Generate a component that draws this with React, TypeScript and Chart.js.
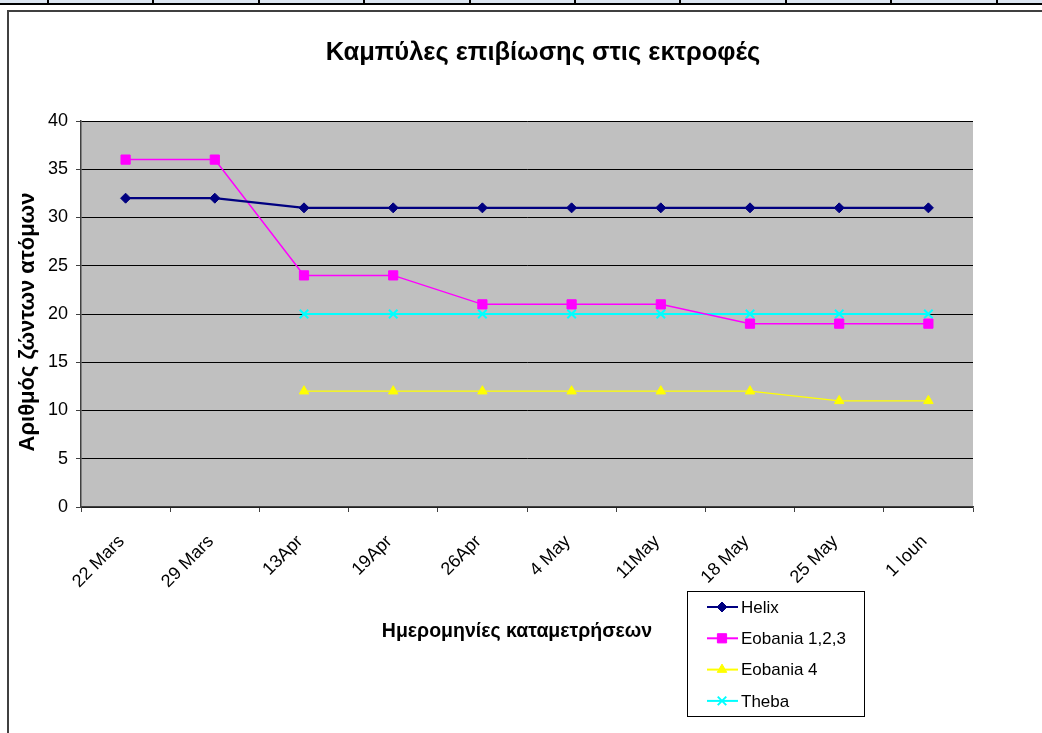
import React, { useEffect, useRef } from 'react';
import { Chart, registerables } from 'chart.js';
import { drawPoint } from 'chart.js/helpers';

Chart.register(...registerables);

const FONT = '"Liberation Sans", Arial, sans-serif';

const categories = ['22 Mars', '29 Mars', '13Apr', '19Apr', '26Apr', '4 May', '11May', '18 May', '25 May', '1 Ioun'];
const helix = [32, 32, 31, 31, 31, 31, 31, 31, 31, 31];
const eobania123 = [36, 36, 24, 24, 21, 21, 21, 19, 19, 19];
const eobania4 = [null, null, 12, 12, 12, 12, 12, 12, 11, 11];
const theba = [null, null, 20, 20, 20, 20, 20, 20, 20, 20];
const seriesLabels = ['Helix', 'Eobania 1,2,3', 'Eobania 4', 'Theba'];
const seriesColors = ['#000080', '#FF00FF', '#FFFF00', '#00FFFF'];
const chartTitle = 'Καμπύλες επιβίωσης στις εκτροφές';
const yTitle = 'Αριθμός ζώντων ατόμων';
const xTitle = 'Ημερομηνίες καταμετρήσεων';

const decorPlugin = {
  id: 'decor',
  beforeDraw(chart: any) {
    const { ctx, chartArea } = chart;
    const W = chart.width;
    const H = chart.height;
    ctx.save();
    ctx.fillStyle = '#ffffff';
    ctx.fillRect(0, 0, W, H);
    ctx.fillStyle = '#DBE5F1';
    ctx.fillRect(0, 0, W, 3);
    ctx.fillStyle = '#000000';
    ctx.fillRect(0, 3, W, 2);
    for (let i = 0; i < 10; i++) {
      const x = Math.round(48 + 105.4 * i);
      ctx.fillRect(x - 1, 0, 2, 4);
    }
    ctx.strokeStyle = '#404040';
    ctx.lineWidth = 2;
    ctx.strokeRect(8, 11, W + 40, H + 40);
    ctx.fillStyle = '#C0C0C0';
    ctx.fillRect(chartArea.left, chartArea.top, chartArea.right - chartArea.left, chartArea.bottom - chartArea.top);
    ctx.restore();
  },
  afterDraw(chart: any) {
    const { ctx } = chart;
    ctx.save();
    ctx.fillStyle = '#000000';
    ctx.textAlign = 'center';
    ctx.textBaseline = 'middle';
    ctx.font = `bold 25.5px ${FONT}`;
    ctx.fillText(chartTitle, 543, 53);
    ctx.font = `bold 19.5px ${FONT}`;
    ctx.fillText(xTitle, 517, 632);
    ctx.save();
    ctx.translate(28, 322);
    ctx.rotate(-Math.PI / 2);
    ctx.font = `bold 22px ${FONT}`;
    ctx.fillText(yTitle, 0, 0);
    ctx.restore();

    const bx = 687, by = 591, bw = 177, bh = 125;
    ctx.fillStyle = '#ffffff';
    ctx.fillRect(bx, by, bw, bh);
    ctx.strokeStyle = '#000000';
    ctx.lineWidth = 1;
    ctx.strokeRect(bx + 0.5, by + 0.5, bw, bh);
    ctx.font = `17px ${FONT}`;
    ctx.textAlign = 'left';
    ctx.textBaseline = 'middle';
    chart.data.datasets.forEach((ds: any, i: number) => {
      const y = 607 + i * 31.3;
      ctx.strokeStyle = ds.borderColor;
      ctx.lineWidth = 2;
      ctx.beginPath();
      ctx.moveTo(707, y);
      ctx.lineTo(738, y);
      ctx.stroke();
      ctx.fillStyle = ds.pointBackgroundColor;
      ctx.strokeStyle = ds.pointBorderColor;
      ctx.lineWidth = ds.pointBorderWidth;
      drawPoint(ctx, { pointStyle: ds.pointStyle, rotation: 0, borderWidth: ds.pointBorderWidth, radius: ds.pointRadius } as any, 722, y);
      ctx.fillStyle = '#000000';
      ctx.fillText(ds.label, 741, y + 1);
    });
    ctx.restore();
  },
};

export default function App() {
  const ref = useRef<HTMLCanvasElement>(null);
  useEffect(() => {
    Chart.defaults.font.family = FONT;
    const mk = (label: string, data: any[], color: string, style: string, radius: number, lw: number, pbw = 1) => ({
      label,
      data,
      borderColor: color,
      backgroundColor: color,
      pointBackgroundColor: color,
      pointBorderColor: color,
      pointBorderWidth: pbw,
      pointStyle: style,
      pointRadius: radius,
      borderWidth: lw,
      spanGaps: false,
      tension: 0,
    });
    const chart = new Chart(ref.current!, {
      type: 'line',
      data: {
        labels: categories,
        datasets: [
          mk(seriesLabels[0], helix, seriesColors[0], 'rectRot', 5, 2.2),
          mk(seriesLabels[1], eobania123, seriesColors[1], 'rect', 6.5, 1.5),
          mk(seriesLabels[2], eobania4, seriesColors[2], 'triangle', 5.5, 1.2),
          mk(seriesLabels[3], theba, seriesColors[3], 'crossRot', 6, 2, 2),
        ] as any,
      },
      options: {
        responsive: false,
        animation: false,
        layout: { padding: { left: 8, right: 69, top: 121, bottom: 0 } },
        plugins: { legend: { display: false }, title: { display: false }, tooltip: { enabled: false } },
        scales: {
          x: {
            offset: true,
            grid: { display: true, drawOnChartArea: false, drawTicks: true, tickLength: 5, offset: true, color: '#404040' },
            border: { color: '#404040', width: 1.5 },
            ticks: { color: '#000', font: { size: 18, family: FONT }, minRotation: 45, maxRotation: 45, autoSkip: false, padding: 19, labelOffset: -4 },
            afterFit: (s: any) => { s.height = 733 - 507; },
          },
          y: {
            min: 0,
            max: 40,
            ticks: { stepSize: 5, color: '#000', font: { size: 18, family: FONT }, padding: 8 },
            grid: { color: '#000000', lineWidth: 1, drawTicks: true, tickLength: 5, tickColor: '#404040' },
            border: { color: '#404040', width: 1.5 },
            afterFit: (s: any) => { s.width = 73; },
          },
        },
      } as any,
      plugins: [decorPlugin],
    });
    return () => chart.destroy();
  }, []);
  return (
    <div style={{ position: 'fixed', left: 0, top: 0, width: 1042, height: 733, background: '#fff' }}>
      <canvas ref={ref} width={1042} height={733} style={{ width: 1042, height: 733, display: 'block' }} />
    </div>
  );
}
